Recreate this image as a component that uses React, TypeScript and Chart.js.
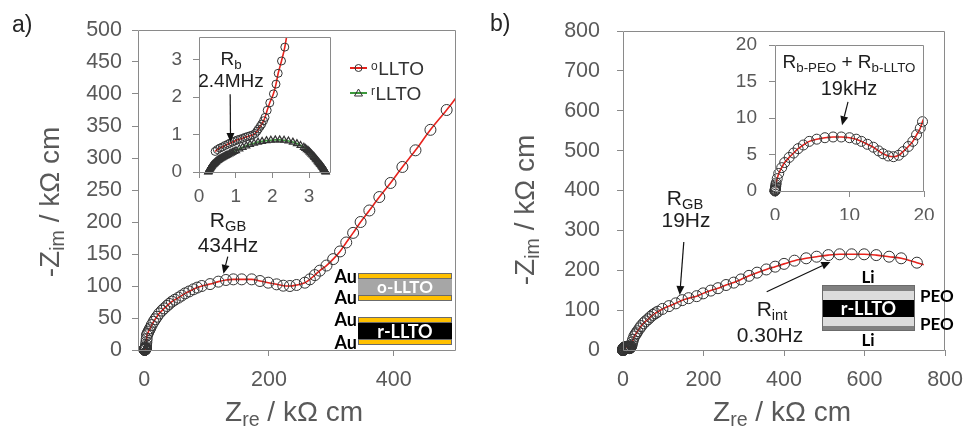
import React, { useEffect, useRef } from 'react';
import { Chart, registerables } from 'chart.js';

Chart.register(...registerables);

const FONT = "'Liberation Sans', Arial, Helvetica, sans-serif";
const BOLD = "Lato, 'Open Sans', sans-serif";
const AX = '#8a8a8a';
const TICK = '#595959';
const ANN = '#1e1e1e';
const RED = '#e8231d';
const GREEN = '#3c9a3c';
const MK = '#333333';
const GOLD = '#ffc000';

// ---------- Panel a : oLLTO / rLLTO (kΩ cm) ----------
// inset range (high frequency)
const aInsetOX = [0.44, 0.5, 0.57, 0.64, 0.71, 0.78, 0.84, 0.91, 0.98, 1.05, 1.12, 1.19, 1.26, 1.33, 1.39, 1.46, 1.53, 1.58, 1.62, 1.67, 1.71, 1.76, 1.8, 1.86, 1.93, 2.03, 2.1, 2.16, 2.25, 2.34];
const aInsetOY = [0.55, 0.6, 0.64, 0.67, 0.71, 0.74, 0.77, 0.8, 0.83, 0.86, 0.88, 0.9, 0.93, 0.95, 0.97, 0.99, 1.03, 1.09, 1.15, 1.22, 1.28, 1.37, 1.46, 1.65, 1.85, 2.09, 2.35, 2.64, 2.97, 3.34];
const aInsetRX = [0.25, 0.255, 0.26, 0.265, 0.27, 0.275, 0.28, 0.29, 0.3, 0.31, 0.32, 0.33, 0.34, 0.35, 0.365, 0.38, 0.395, 0.41, 0.43, 0.45, 0.47, 0.49, 0.51, 0.53, 0.555, 0.58, 0.605, 0.63, 0.66, 0.69, 0.72, 0.75, 0.79, 0.83, 0.87, 0.91, 0.96, 1.01, 1.1, 1.19, 1.29, 1.39, 1.5, 1.61, 1.72, 1.84, 1.96, 2.08, 2.2, 2.32, 2.44, 2.56, 2.67, 2.77, 2.86, 2.9, 2.94, 2.98, 3.01, 3.04, 3.07, 3.1, 3.13, 3.15, 3.18, 3.2, 3.23, 3.25, 3.27, 3.29, 3.31, 3.33, 3.34, 3.36, 3.37, 3.39, 3.4, 3.41, 3.42, 3.43, 3.44, 3.45, 3.46];
const aInsetRY = [0, 0.01, 0.02, 0.03, 0.04, 0.05, 0.06, 0.075, 0.09, 0.105, 0.12, 0.135, 0.15, 0.165, 0.18, 0.195, 0.21, 0.225, 0.24, 0.26, 0.28, 0.295, 0.31, 0.325, 0.34, 0.355, 0.37, 0.385, 0.4, 0.415, 0.43, 0.445, 0.465, 0.485, 0.505, 0.525, 0.55, 0.57, 0.62, 0.66, 0.7, 0.74, 0.77, 0.8, 0.82, 0.84, 0.85, 0.86, 0.86, 0.85, 0.83, 0.8, 0.76, 0.71, 0.66, 0.63, 0.6, 0.57, 0.54, 0.51, 0.48, 0.45, 0.42, 0.39, 0.36, 0.33, 0.3, 0.27, 0.25, 0.22, 0.2, 0.18, 0.16, 0.14, 0.12, 0.1, 0.085, 0.07, 0.055, 0.04, 0.025, 0.01, 0];
// main range (lower frequency)
const aMainX = [2.6, 3.0, 3.4, 3.9, 4.3, 5.3, 6.5, 8, 9.6, 12, 14.9, 17.5, 20.3, 24, 28.3, 32, 36.3, 40, 44.3, 49, 54.9, 60, 65.6, 72, 78.9, 85, 92.3, 105.6, 118.9, 131, 142.9, 156.3, 172.3, 185.6, 198.9, 212.3, 223, 233.6, 244.3, 257.6, 265.6, 273.6, 281.6, 292.3, 303, 314, 324, 335, 347, 361, 377, 395, 414, 435, 459, 485];
const aMainY = [5, 8, 12, 17, 23, 25.5, 28, 31, 34, 39, 44, 48, 52, 57, 61.5, 65, 68.8, 72, 75.5, 78.5, 81.8, 85, 88.5, 91.5, 94.8, 97.5, 100, 103, 106.8, 109.4, 110.4, 110.4, 110.4, 107.8, 105.2, 102.6, 100.5, 100, 101.6, 105.2, 110.4, 117, 124, 132, 142, 154, 168, 183, 200, 218, 239, 261, 286, 312, 344, 375];
const aFitEndX = [500];
const aFitEndY = [394];
const aXTicks = [0, 200, 400];
const aYTicks = [0, 50, 100, 150, 200, 250, 300, 350, 400, 450, 500];
const aInsetTicks = [0, 1, 2, 3];

// ---------- Panel b : PEO | r-LLTO | PEO (kΩ cm) ----------
const bInsetX = [0, 0.01, 0.02, 0.03, 0.05, 0.07, 0.09, 0.12, 0.16, 0.3, 0.5, 0.9, 1.3, 1.9, 2.5, 3.1, 3.8, 4.6, 5.6, 6.7, 7.8, 8.9, 10.0, 10.9, 11.6, 12.4, 13.2, 13.9, 14.5, 15.2, 15.9, 16.6, 17.2, 17.9, 18.5, 19.0, 19.5, 19.8];
const bInsetY = [0, 0.05, 0.12, 0.2, 0.3, 0.45, 0.6, 0.85, 1.1, 1.7, 2.4, 3.2, 3.9, 4.6, 5.2, 5.8, 6.3, 6.8, 7.1, 7.3, 7.4, 7.4, 7.3, 7.1, 6.8, 6.4, 6.0, 5.5, 5.1, 4.8, 4.7, 4.9, 5.4, 6.1, 6.8, 7.7, 8.6, 9.5];
const bMainX = [21.5, 23, 25, 28, 31, 33, 36, 41, 45, 51, 56, 62, 68, 74, 80, 86, 98, 114, 131, 147, 163, 183, 199, 218, 236, 256, 275, 293, 313, 333, 356, 378, 400, 426, 455, 481, 510, 538, 568, 599, 629, 661, 691, 730];
const bMainY = [13, 19, 26, 34, 39, 42, 47, 54, 60, 67, 72, 77, 83, 88, 92, 96, 103, 110, 117, 125, 130, 135, 142, 149, 155, 163, 169, 177, 186, 194, 202, 209, 216, 224, 230, 234, 238, 240, 240, 240, 238, 234, 230, 219];
const bFitEndX = [747];
const bFitEndY = [214];
const bXTicks = [0, 200, 400, 600, 800];
const bYTicks = [0, 100, 200, 300, 400, 500, 600, 700, 800];
const bInsetXTicks = [0, 10, 20];
const bInsetYTicks = [0, 5, 10, 15, 20];

// annotation arrows (data coordinates of their own chart)
const arrowsMainA = [{ x1: 134, y1: 146, x2: 127, y2: 119 }];
const arrowsInsetA = [{ x1: 0.85, y1: 2.08, x2: 0.86, y2: 0.8 }];
const arrowsMainB = [
  { x1: 151, y1: 271, x2: 141, y2: 138 },
  { x1: 357, y1: 146, x2: 515, y2: 221 },
];
const arrowsInsetB = [{ x1: 9.8, y1: 12.2, x2: 9.0, y2: 9.0 }];

const pts = (xs: number[], ys: number[]) => xs.map((x, i) => ({ x, y: ys[i] }));

function drawArrow(ctx: CanvasRenderingContext2D, x1: number, y1: number, x2: number, y2: number) {
  const ang = Math.atan2(y2 - y1, x2 - x1);
  const hl = 9, hw = 4;
  const bx = x2 - hl * Math.cos(ang), by = y2 - hl * Math.sin(ang);
  ctx.beginPath();
  ctx.moveTo(x1, y1);
  ctx.lineTo(bx, by);
  ctx.stroke();
  ctx.beginPath();
  ctx.moveTo(x2, y2);
  ctx.lineTo(bx + hw * Math.sin(ang), by - hw * Math.cos(ang));
  ctx.lineTo(bx - hw * Math.sin(ang), by + hw * Math.cos(ang));
  ctx.closePath();
  ctx.fill();
}

function overlayPlugin(arrows: any[], legend: any[]) {
  return {
    id: 'overlay',
    afterDatasetsDraw(chart: any) {
      const { ctx, chartArea: a, scales } = chart;
      ctx.save();
      ctx.strokeStyle = AX;
      ctx.lineWidth = 1;
      const l = Math.round(a.left) + 0.5, t = Math.round(a.top) + 0.5;
      const r = Math.round(a.right) - 0.5, b = Math.round(a.bottom) + 0.5;
      ctx.beginPath();
      ctx.moveTo(l, t); ctx.lineTo(r, t); ctx.lineTo(r, b); ctx.lineTo(l, b); ctx.closePath();
      ctx.stroke();
      ctx.strokeStyle = '#111';
      ctx.fillStyle = '#111';
      ctx.lineWidth = 1.2;
      for (const ar of arrows) {
        drawArrow(ctx,
          scales.x.getPixelForValue(ar.x1), scales.y.getPixelForValue(ar.y1),
          scales.x.getPixelForValue(ar.x2), scales.y.getPixelForValue(ar.y2));
      }
      for (const it of legend) {
        ctx.strokeStyle = it.color;
        ctx.lineWidth = 2;
        ctx.beginPath();
        ctx.moveTo(350, it.y); ctx.lineTo(367, it.y);
        ctx.stroke();
        ctx.strokeStyle = MK;
        ctx.lineWidth = 1;
        ctx.beginPath();
        if (it.style === 'circle') {
          ctx.arc(358.5, it.y, 3.5, 0, Math.PI * 2);
        } else {
          ctx.moveTo(358.5, it.y - 4);
          ctx.lineTo(362.5, it.y + 3);
          ctx.lineTo(354.5, it.y + 3);
          ctx.closePath();
        }
        ctx.stroke();
        ctx.fillStyle = '#333';
        ctx.textBaseline = 'alphabetic';
        ctx.textAlign = 'left';
        ctx.font = `12px ${FONT}`;
        ctx.fillText(it.sup, 371, it.y + 1.5);
        const sw = ctx.measureText(it.sup).width;
        ctx.font = `19px ${FONT}`;
        ctx.fillText(it.label, 371 + sw + 0.5, it.y + 6.5);
      }
      ctx.restore();
    },
  };
}

const markerDS = (data: any[], r: number, style = 'circle', bw = 1) => ({
  data, showLine: false, pointStyle: style, pointRadius: r, pointBorderWidth: bw,
  pointBorderColor: MK, pointBackgroundColor: 'rgba(0,0,0,0)', clip: false, order: 1,
});
const fitDS = (data: any[], color: string) => ({
  data, showLine: true, borderColor: color, borderWidth: 1.6, pointRadius: 0,
  cubicInterpolationMode: 'monotone', fill: false, clip: 0, order: 2,
});

function makeConfig(o: any) {
  const { w, h, box, xr, yr, xTicks, yTicks, size, xPad, yPad, datasets, arrows = [], legend = [] } = o;
  const tickFont = { family: FONT, size };
  const grid = { display: true, drawOnChartArea: false, drawTicks: true, tickLength: 6, color: AX, lineWidth: 1 };
  return {
    type: 'scatter',
    data: { datasets },
    options: {
      responsive: false,
      maintainAspectRatio: false,
      animation: false,
      devicePixelRatio: 1,
      events: [],
      layout: { padding: { left: 0, top: box.t, right: w - box.r, bottom: 0 } },
      plugins: { legend: { display: false }, tooltip: { enabled: false }, title: { display: false } },
      scales: {
        x: {
          type: 'linear', position: 'bottom', min: xr[0], max: xr[1],
          afterBuildTicks: (s: any) => { s.ticks = xTicks.map((v: number) => ({ value: v })); },
          afterFit: (s: any) => { s.height = h - box.b; },
          ticks: { font: tickFont, color: TICK, padding: xPad, maxRotation: 0, minRotation: 0, autoSkip: false, callback: (v: any) => String(v) },
          grid, border: { display: false },
        },
        y: {
          type: 'linear', position: 'left', min: yr[0], max: yr[1],
          afterBuildTicks: (s: any) => { s.ticks = yTicks.map((v: number) => ({ value: v })); },
          afterFit: (s: any) => { s.width = box.l; },
          ticks: { font: tickFont, color: TICK, padding: yPad, autoSkip: false, callback: (v: any) => String(v) },
          grid, border: { display: false },
        },
      },
    },
    plugins: [overlayPlugin(arrows, legend)],
  };
}

function ChartCanvas({ left, top, width, height, make }: any) {
  const ref = useRef<HTMLCanvasElement>(null);
  useEffect(() => {
    const c = new Chart(ref.current as HTMLCanvasElement, make());
    return () => c.destroy();
  }, []);
  return <canvas ref={ref} width={width} height={height} style={{ position: 'absolute', left, top, width, height }} />;
}

const Sub = ({ children }: any) => <span style={{ fontSize: '0.7em', verticalAlign: '-0.28em' }}>{children}</span>;

function Tx({ x, y, size, align = 'center', color = ANN, children }: any) {
  const style: any = {
    position: 'absolute', left: x, top: y - 0.8465 * size, fontSize: size, lineHeight: 1,
    fontFamily: FONT, color, whiteSpace: 'nowrap',
    transform: align === 'center' ? 'translateX(-50%)' : align === 'right' ? 'translateX(-100%)' : 'none',
  };
  return <div style={style}>{children}</div>;
}

function YTitle({ cx, cy }: any) {
  return (
    <div style={{
      position: 'absolute', left: cx, top: cy, fontSize: 28, lineHeight: 1, fontFamily: FONT, color: TICK,
      whiteSpace: 'nowrap', transform: 'translate(-50%, -50%) rotate(-90deg)',
    }}>-Z<Sub>im</Sub> / kΩ cm</div>
  );
}

function Bold({ left, top, width, height, size = 17, color = '#000', align = 'center', children }: any) {
  return (
    <div style={{
      position: 'absolute', left, top, width, height, lineHeight: `${height}px`, fontFamily: BOLD, fontWeight: 700,
      fontSize: size, color, textAlign: align, whiteSpace: 'nowrap',
    }}>{children}</div>
  );
}

export default function App() {
  const oA = pts(aInsetOX, aInsetOY);
  const rA = pts(aInsetRX, aInsetRY);
  const oMainA = [...oA, ...pts(aMainX, aMainY)];
  const bIn = pts(bInsetX, bInsetY);
  const bAll = [...bIn, ...pts(bMainX, bMainY)];

  const mainA = () => makeConfig({
    w: 490, h: 427, box: { l: 138, t: 30, r: 456, b: 350 }, xr: [-10, 500], yr: [0, 500],
    xTicks: aXTicks, yTicks: aYTicks, size: 21.5, xPad: 11, yPad: 10, arrows: arrowsMainA,
    legend: [
      { y: 68, color: RED, style: 'circle', sup: 'o', label: 'LLTO' },
      { y: 93, color: GREEN, style: 'triangle', sup: 'r', label: 'LLTO' },
    ],
    datasets: [
      markerDS(oMainA, 5.5),
      markerDS(rA, 4, 'triangle'),
      fitDS([...oMainA, ...pts(aFitEndX, aFitEndY)], RED),
      fitDS(rA, GREEN),
    ],
  });
  const insetA = () => makeConfig({
    w: 200, h: 200, box: { l: 49, t: 20, r: 181, b: 157 }, xr: [0, 3.6], yr: [0, 3.6],
    xTicks: aInsetTicks, yTicks: aInsetTicks, size: 19, xPad: 7, yPad: 11, arrows: arrowsInsetA,
    datasets: [
      markerDS(oA, 4),
      markerDS(rA, 4, 'triangle', 1.2),
      fitDS(oMainA, RED),
      fitDS(rA, GREEN),
    ],
  });
  const mainB = () => makeConfig({
    w: 484, h: 427, box: { l: 133, t: 31, r: 462, b: 350 }, xr: [0, 800], yr: [0, 800],
    xTicks: bXTicks, yTicks: bYTicks, size: 21.5, xPad: 11, yPad: 17, arrows: arrowsMainB,
    datasets: [
      markerDS(bAll, 5.5),
      fitDS([...bAll, ...pts(bFitEndX, bFitEndY)], RED),
    ],
  });
  const insetB = () => makeConfig({
    w: 230, h: 200, box: { l: 60, t: 25, r: 209, b: 171 }, xr: [0, 20], yr: [0, 20],
    xTicks: bInsetXTicks, yTicks: bInsetYTicks, size: 19, xPad: 7, yPad: 12, arrows: arrowsInsetB,
    datasets: [
      markerDS(bIn, 5),
      fitDS(bAll, RED),
    ],
  });

  const layer = (h: number, bg: string, extra: any = {}) => (
    <div style={{ height: h, background: bg, boxSizing: 'border-box', ...extra }} />
  );

  return (
    <div style={{ position: 'absolute', left: 0, top: 0, width: 974, height: 427, background: '#fff', overflow: 'hidden' }}>
      <ChartCanvas left={0} top={0} width={490} height={427} make={mainA} />
      <ChartCanvas left={490} top={0} width={484} height={427} make={mainB} />
      <ChartCanvas left={150} top={15} width={200} height={200} make={insetA} />
      <ChartCanvas left={715} top={20} width={230} height={200} make={insetB} />

      {/* panel labels */}
      <Tx x={12} y={32} size={23} align="left" color="#262626">a)</Tx>
      <Tx x={490} y={31} size={23} align="left" color="#262626">b)</Tx>

      {/* axis titles */}
      <YTitle cx={52} cy={202} />
      <YTitle cx={527} cy={210} />
      <Tx x={294} y={422} size={28} color={TICK}>Z<Sub>re</Sub> / kΩ cm</Tx>
      <Tx x={782} y={422} size={28} color={TICK}>Z<Sub>re</Sub> / kΩ cm</Tx>

      {/* panel a annotations */}
      <Tx x={231} y={65} size={19}>R<Sub>b</Sub></Tx>
      <Tx x={231} y={87} size={19}>2.4MHz</Tx>
      <Tx x={228} y={227} size={21}>R<Sub>GB</Sub></Tx>
      <Tx x={228} y={252} size={21}>434Hz</Tx>

      {/* panel b annotations */}
      <Tx x={685} y={205} size={21}>R<Sub>GB</Sub></Tx>
      <Tx x={686} y={227} size={21}>19Hz</Tx>
      <Tx x={772} y={316} size={21}>R<Sub>int</Sub></Tx>
      <Tx x={770} y={342} size={21}>0.30Hz</Tx>
      <Tx x={849} y={68} size={19}>R<Sub>b-PEO</Sub> + R<Sub>b-LLTO</Sub></Tx>
      <Tx x={849} y={95} size={20}>19kHz</Tx>

      {/* schematic a: Au | o-LLTO | Au  and  Au | r-LLTO | Au */}
      <div style={{ position: 'absolute', left: 358, top: 273, width: 94, height: 28, boxSizing: 'border-box', display: 'flex', flexDirection: 'column' }}>
        {layer(6, GOLD, { border: '1px solid #6b6b6b' })}
        <div style={{ height: 16, background: '#a6a6a6', color: '#fff', fontFamily: BOLD, fontWeight: 700, fontSize: 17, lineHeight: '16px', textAlign: 'center' }}>o-LLTO</div>
        {layer(6, GOLD, { border: '1px solid #6b6b6b' })}
      </div>
      <div style={{ position: 'absolute', left: 358, top: 317, width: 94, height: 28, boxSizing: 'border-box', display: 'flex', flexDirection: 'column' }}>
        {layer(6, GOLD, { border: '1px solid #6b6b6b' })}
        <div style={{ height: 16, background: '#000', color: '#fff', fontFamily: BOLD, fontWeight: 700, fontSize: 18, lineHeight: '16px', textAlign: 'center' }}>r-LLTO</div>
        {layer(6, GOLD, { border: '1px solid #6b6b6b' })}
      </div>
      <Bold left={317} top={266} width={40} height={20} size={18} align="right">Au</Bold>
      <Bold left={317} top={287} width={40} height={20} size={18} align="right">Au</Bold>
      <Bold left={317} top={309} width={40} height={20} size={18} align="right">Au</Bold>
      <Bold left={317} top={332} width={40} height={20} size={18} align="right">Au</Bold>

      {/* schematic b: Li | PEO | r-LLTO | PEO | Li */}
      <div style={{ position: 'absolute', left: 822, top: 285, width: 93, height: 46, boxSizing: 'border-box', border: '1px solid #6b6b6b', display: 'flex', flexDirection: 'column' }}>
        {layer(5, '#808080')}
        {layer(9, '#dcdcdc')}
        <div style={{ height: 17, background: '#000', color: '#fff', fontFamily: BOLD, fontWeight: 700, fontSize: 18, lineHeight: '17px', textAlign: 'center' }}>r-LLTO</div>
        {layer(9, '#dcdcdc')}
        {layer(4, '#808080')}
      </div>
      <Bold left={848} top={267} width={40} height={20} size={17}>Li</Bold>
      <Bold left={848} top={330} width={40} height={20} size={17}>Li</Bold>
      <Bold left={920} top={286} width={40} height={20} size={17} align="left">PEO</Bold>
      <Bold left={920} top={314} width={40} height={20} size={17} align="left">PEO</Bold>
    </div>
  );
}
